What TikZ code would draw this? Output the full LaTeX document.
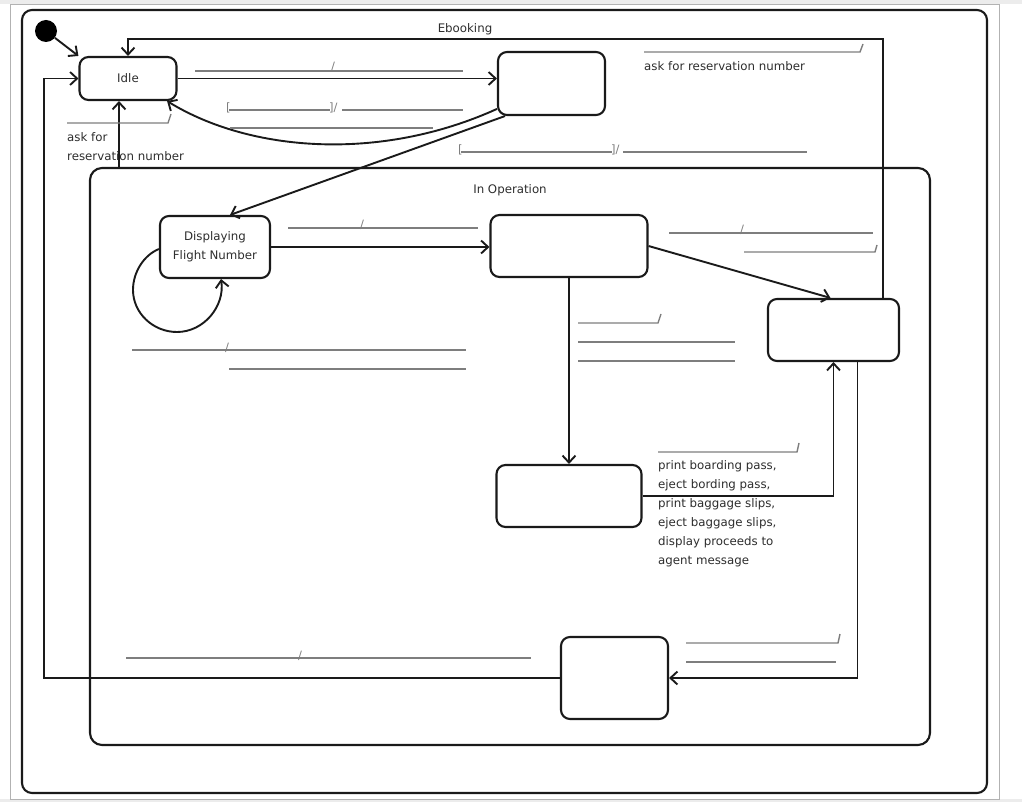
\documentclass[tikz,border=0pt]{standalone}
\usepackage{fontspec}
\setmainfont{DejaVu Sans}
\usetikzlibrary{arrows.meta,calc}
\definecolor{ink}{HTML}{1A1A1A}
\definecolor{txt}{HTML}{2E2E2E}
\definecolor{lbl}{HTML}{7E7E7E}
\tikzset{
  every node/.style={font=\fontsize{11.8}{19}\selectfont, text=txt},
  st/.style={draw=ink, line width=2.1pt, rounded corners=9pt, inner sep=0pt},
  frame/.style={draw=ink, line width=2.1pt, inner sep=0pt},
  tr/.style={draw=ink, line width=1.9pt, -{Straight Barb[length=7pt,width=13pt]}},
  ul/.style={draw=lbl, line width=1.4pt},
  sl/.style={text=lbl, inner sep=0pt, anchor=base, font=\fontsize{11.5}{12}\selectfont},
  slw/.style={text=lbl, inner sep=0pt, anchor=base west, font=\fontsize{11.5}{12}\selectfont}
}
\begin{document}
\begin{tikzpicture}[x=1pt,y=-1pt]
\useasboundingbox (0,0) rectangle (1022,802);
\fill[white] (0,0) rectangle (1022,802);
\fill[gray!15] (0,0) rectangle (1022,4);
\fill[gray!15] (0,799) rectangle (1022,802);
\draw[gray!60, line width=1pt] (10.5,4.5) rectangle (999,799);

% composite states
\node[frame, rounded corners=10pt, minimum width=965pt, minimum height=783pt] (eb) at (504.5,401.5) {};
\node (ebl) at (465,29) {Ebooking};
\node[frame, rounded corners=12pt, minimum width=840pt, minimum height=577pt] (inop) at (510,456.5) {};
\node (inopl) at (510,190) {In Operation};

% states
\node[circle, fill=black, minimum size=22pt, inner sep=0pt] (init) at (46,31) {};
\node[st, minimum width=97pt, minimum height=43pt] (idle) at (128,78.5) {Idle};
\node[st, minimum width=107pt, minimum height=63pt] (s2) at (551.5,83.5) {};
\node[st, minimum width=110pt, minimum height=62pt, align=center] (dfn) at (215,247) {Displaying\\Flight Number};
\node[st, minimum width=157pt, minimum height=62pt] (s3) at (569,246) {};
\node[st, minimum width=131pt, minimum height=62pt] (s4) at (833.5,330) {};
\node[st, minimum width=145pt, minimum height=62pt] (s5) at (569,496) {};
\node[st, minimum width=107pt, minimum height=82pt] (s6) at (614.5,678) {};

% helper coordinates
\coordinate (ebtop) at (883,39);
\coordinate (leftx) at (44,0);
\coordinate (upx) at (119,0);

% transitions
\draw[tr] (init) -- (idle.north west);
\draw[tr] (idle.east) -- (idle.east -| s2.west);
\draw[tr] (s2.205) .. controls (380,162) and (250,152) .. (idle.-30);
\draw[tr] (s2.215) -- ($(dfn.north)+(15,0)$);
\draw[tr] ($(dfn.west)+(0,2)$) .. controls (144,255) and (133,272) .. (133,290)
  .. controls (133,313) and (153,332) .. (177,332)
  .. controls (204,332) and (225,306) .. ($(dfn.south)+(6,0)$);
\draw[tr] (dfn.east) -- (dfn.east -| s3.west);
\draw[tr] (s3.east) -- ($(s4.north)+(-3,0)$);
\draw[tr] (s3.south) -- (s3.south |- s5.north);
\draw[tr] (s5.east) -| (s4.south);
\draw[tr] ($(s4.south)+(24,0)$) |- (s6.east);
\draw[tr] (ebtop |- s4.north) -- (ebtop) -| (idle.north);
\draw[tr] (s6.west) -- (s6.west -| leftx) |- (idle.west);
\draw[tr] (inop.north -| upx) -- (idle.south -| upx);

% labels
\draw[ul] (195,71) -- (463,71); \node[sl] (sl1) at (333,71) {/};
\node[slw] (b1) at (226,112) {[}; \draw[ul] (229,110) -- (330,110);
\node[slw] (b2) at (329,112) {]/}; \draw[ul] (342,110) -- (463,110);
\draw[ul] (230,128) -- (433,128);

\draw[ul] (67,123) -- (168,123) -- (171,114);
\node[anchor=north west, align=left, inner sep=0pt] (la) at (67,132) {ask for\\reservation number};

\draw[ul] (644,52) -- (860,52) -- (863,44);
\node[anchor=base west, inner sep=0pt] (lb) at (644,71) {ask for reservation number};

\node[slw] (b3) at (458,154) {[}; \draw[ul] (461,152) -- (612,152);
\node[slw] (b4) at (611,154) {]/}; \draw[ul] (623,152) -- (807,152);

\draw[ul] (288,228) -- (478,228); \node[sl] (sl2) at (362,229) {/};

\draw[ul] (132,350) -- (466,350); \node[sl] (sl3) at (227,351) {/};
\draw[ul] (229,369) -- (466,369);

\draw[ul] (669,233) -- (873,233); \node[sl] (sl4) at (742,234) {/};
\draw[ul] (744,252) -- (875,252) -- (877,245);

\draw[ul] (578,323) -- (658,323) -- (661,314);
\draw[ul] (578,342) -- (735,342);
\draw[ul] (578,361) -- (735,361);

\draw[ul] (658,452) -- (797,452) -- (799,443);
\node[anchor=north west, align=left, inner sep=0pt] (act) at (658,460) {print boarding pass,\\eject bording pass,\\print baggage slips,\\eject baggage slips,\\display proceeds to\\agent message};

\draw[ul] (686,643) -- (838,643) -- (840,634);
\draw[ul] (686,662) -- (836,662);

\draw[ul] (126,658) -- (531,658); \node[sl] (sl5) at (300,659) {/};
\end{tikzpicture}
\end{document}
